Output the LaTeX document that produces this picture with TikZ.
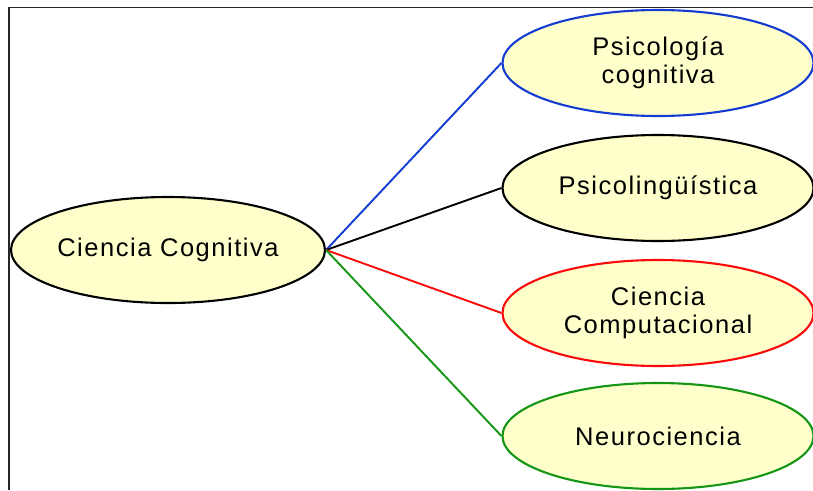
\documentclass[tikz,border=0pt]{standalone}
\usepackage{fontspec}
\setmainfont{Liberation Sans}[LetterSpace=6]
\usetikzlibrary{shapes.geometric}
\definecolor{bubble}{RGB}{255,255,204}
\definecolor{lblue}{RGB}{20,60,210}
\definecolor{lred}{RGB}{250,10,10}
\definecolor{lgreen}{RGB}{20,150,20}
\tikzset{
  topic/.style={ellipse, draw, line width=2.1pt, fill=bubble, inner sep=0pt,
    minimum width=311pt, minimum height=106pt, align=center,
    font=\fontsize{25.5}{28}\selectfont},
  link/.style={line width=1.9pt},
}
\begin{document}
\begin{tikzpicture}[x=1pt,y=-1pt]
\useasboundingbox (0,0) rectangle (813,490);
\clip (0,0) rectangle (813,490);
\fill[white] (0,0) rectangle (813,490);
% frame
\draw[line width=1.8pt, black!85] (9,490) -- (9,7.5) -- (813,7.5);
% nodes
\node[topic, minimum width=314pt] (c) at (168,250) {Ciencia Cognitiva};
\node[topic, draw=lblue] (p1) at (658,63) {Psicología\\cognitiva};
\node[topic] (p2) at (658,188) {Psicolingüística};
\node[topic, draw=lred] (p3) at (658,313) {Ciencia\\Computacional};
\node[topic, draw=lgreen] (p4) at (658,436) {Neurociencia};
% connectors
\draw[link, lblue] (c.east) -- (p1.west);
\draw[link, black] (c.east) -- (p2.west);
\draw[link, lred] (c.east) -- (p3.west);
\draw[link, lgreen] (c.east) -- (p4.west);
\end{tikzpicture}
\end{document}
